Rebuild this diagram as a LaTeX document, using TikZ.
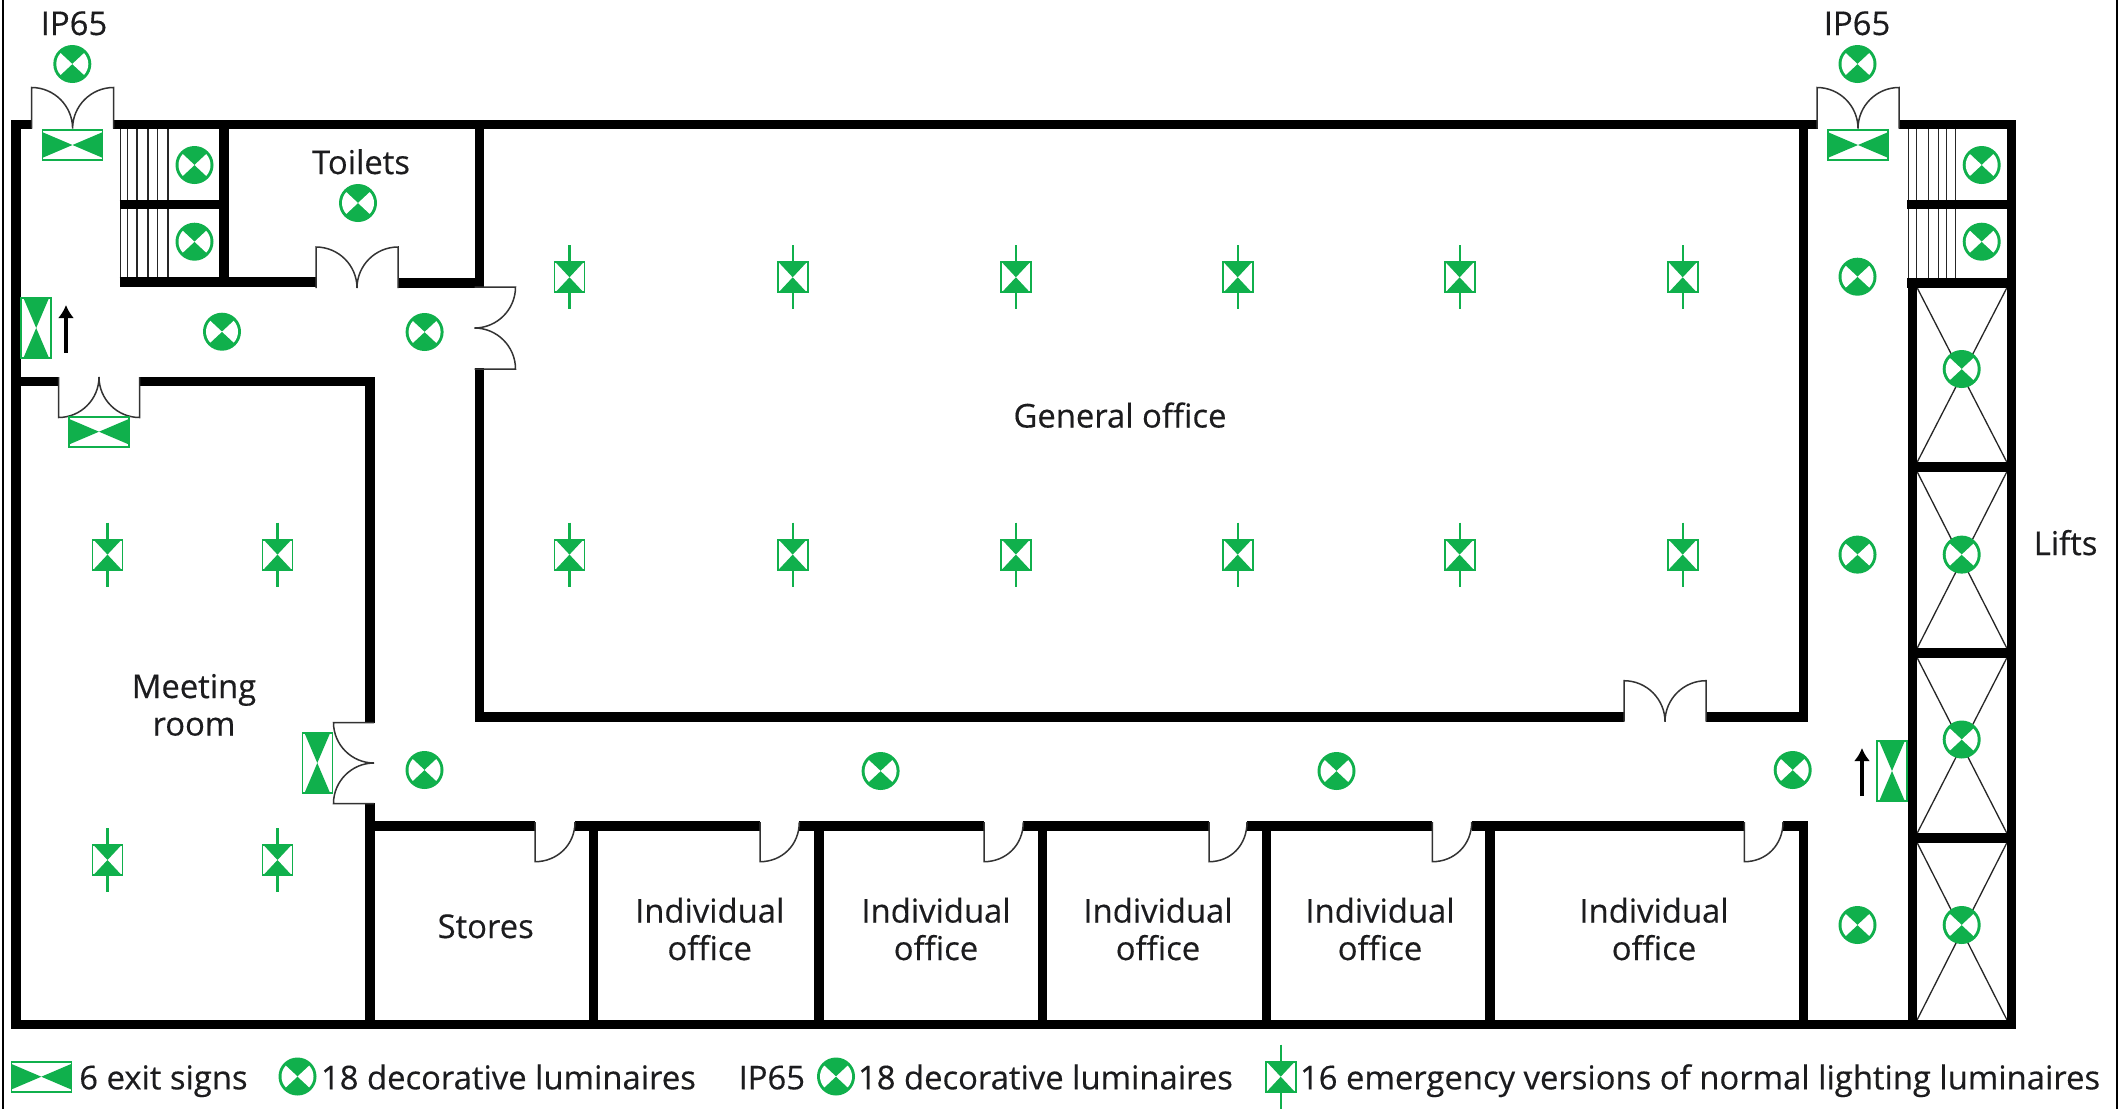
\documentclass[tikz,border=0pt]{standalone}
\usepackage{fontspec}
\setmainfont[FakeBold=0.35]{Open Sans}
\usetikzlibrary{arrows.meta}
\definecolor{lumgreen}{RGB}{16,176,76}
\definecolor{inkc}{RGB}{28,28,30}
\tikzset{
  wall/.style={draw=black,line width=4.7pt,line cap=butt,line join=miter},
  doorline/.style={draw=black!80,line width=0.75pt,line join=miter},
  thinline/.style={draw=black!85,line width=0.65pt},
  label/.style={inner sep=0pt,outer sep=0pt,anchor=base,text=inkc,font=\fontsize{16.4pt}{18pt}\selectfont},
  legendlabel/.style={label,anchor=base west},
  exitarrow/.style={draw=black,line width=1.6pt,-{Latex[length=6.5pt,width=8pt]}},
}
\newcommand\lumin[2]{%
  \begin{scope}[shift={(#1,#2)}]
    \fill[lumgreen] (0,0) circle[radius=19];
    \fill[white] (0,0) -- (43:16) arc[start angle=43,end angle=-43,radius=16] -- cycle;
    \fill[white] (0,0) -- (137:16) arc[start angle=137,end angle=223,radius=16] -- cycle;
  \end{scope}}
\newcommand\exitsign[3]{%
  \begin{scope}[shift={(#1,#2)},rotate=#3]
    \draw[lumgreen,line width=0.8pt,fill=white] (-30,-15) rectangle (30,15);
    \fill[lumgreen] (-30,-12.8) -- (0,0) -- (-30,12.8) -- cycle;
    \fill[lumgreen] (30,-12.8) -- (0,0) -- (30,12.8) -- cycle;
  \end{scope}}
\newcommand\emerg[2]{%
  \begin{scope}[shift={(#1,#2)}]
    \draw[lumgreen,line width=1.1pt] (0,-32) -- (0,32);
    \draw[lumgreen,line width=0.9pt,fill=white] (-15,-15) rectangle (15,15);
    \fill[lumgreen] (-14,-15) -- (0,0) -- (14,-15) -- cycle;
    \fill[lumgreen] (-14,15) -- (0,0) -- (14,15) -- cycle;
  \end{scope}}
\newcommand\dbldoor[4]{%
  \begin{scope}[shift={(#1,#2)},rotate=#3]
    \draw[doorline] (-#4,0) -- (-#4,-#4) .. controls (-0.45*#4,-#4) and (0,-0.55*#4) .. (0,0)
      .. controls (0,-0.55*#4) and (0.45*#4,-#4) .. (#4,-#4) -- (#4,0);
  \end{scope}}
\newcommand\sdoor[2]{%
  \draw[doorline] (#1,822) -- (#1,861.7) .. controls (#1+22,861.7) and (#2,845) .. (#2,822);}
\begin{document}
\begin{tikzpicture}[x=0.5pt,y=-0.5pt]
\useasboundingbox (0,0) rectangle (2121,1109);
\fill[white] (0,0) rectangle (2121,1109);
% frame
\draw[black,line width=1.4pt] (3,0) -- (3,1109);
\draw[black,line width=1.4pt] (2117,0) -- (2117,1109);
% stairs
\foreach \sx in {120.5,127.4,137,148,157.7,168}{
  \draw[thinline] (\sx,129) -- (\sx,200);
  \draw[thinline] (\sx,209) -- (\sx,278);}
\foreach \sx in {1908.5,1916.7,1928.3,1938.3,1946.7,1955.7}{
  \draw[thinline] (\sx,129) -- (\sx,200);
  \draw[thinline] (\sx,209) -- (\sx,279);}
% lift crosses
\foreach \ya/\yb in {287.5/462.5,471.5/648.5,657.5/833.5,842.5/1020}{
  \draw[thinline] (1917,\ya) -- (2007,\yb);
  \draw[thinline] (2007,\ya) -- (1917,\yb);}
% walls
\draw[wall] (32,124.6) -- (16,124.6) -- (16,1024.7) -- (2011.5,1024.7) -- (2011.5,124.6) -- (1899,124.6);
\draw[wall] (113,124.6) -- (1817.5,124.6);
\draw[wall] (119.5,204.7) -- (224,204.7);
\draw[wall] (224,124.6) -- (224,282);
\draw[wall] (119.5,282) -- (316,282);
\draw[wall] (398,283) -- (484,283);
\draw[wall] (479.5,124.6) -- (479.5,287);
\draw[wall] (479.5,368) -- (479.5,717) -- (1624,717);
\draw[wall] (1706,717) -- (1803.5,717) -- (1803.5,124.6);
\draw[wall] (16,381.5) -- (58.5,381.5);
\draw[wall] (139.5,381.5) -- (370,381.5) -- (370,722.7);
\draw[wall] (370,803) -- (370,1024.7);
\draw[wall] (370,826) -- (535,826);
\draw[wall] (575,826) -- (760,826);
\draw[wall] (799.3,826) -- (984,826);
\draw[wall] (1023.3,826) -- (1209,826);
\draw[wall] (1247,826) -- (1432.3,826);
\draw[wall] (1471.7,826) -- (1744.3,826);
\draw[wall] (1783,826) -- (1803.5,826) -- (1803.5,1024.7);
\foreach \wx in {593.3,819,1042.7,1266.7,1490}{\draw[wall] (\wx,826) -- (\wx,1024.7);}
\draw[wall] (1907.3,204.7) -- (2011.5,204.7);
\draw[wall] (1907.3,283) -- (2011.5,283);
\draw[wall] (1912.5,283) -- (1912.5,1024.7);
\foreach \wy in {467,653,838}{\draw[wall] (1912.5,\wy) -- (2011.5,\wy);}
% doors
\dbldoor{72.6}{128.5}{0}{41}
\dbldoor{1858}{128.5}{0}{41}
\dbldoor{357}{288}{0}{41}
\dbldoor{474.5}{328}{-90}{41}
\dbldoor{99}{377}{180}{40.5}
\dbldoor{374}{763}{90}{40.5}
\dbldoor{1665}{721.7}{0}{41}
\sdoor{535}{575}
\sdoor{760}{799.3}
\sdoor{984}{1023.3}
\sdoor{1209}{1247}
\sdoor{1432.3}{1471.7}
\sdoor{1744.3}{1783}
% exit signs and arrows
\exitsign{72.5}{145}{0}
\exitsign{1858}{145}{0}
\exitsign{36.2}{328}{90}
\exitsign{99}{431.7}{0}
\exitsign{317.3}{763}{90}
\exitsign{1892}{771}{90}
\coordinate (arrowAfrom) at (66,352.7);
\coordinate (arrowAto) at (66,305);
\coordinate (arrowBfrom) at (1862,796);
\coordinate (arrowBto) at (1862,748);
\draw[exitarrow] (arrowAfrom) -- (arrowAto);
\draw[exitarrow] (arrowBfrom) -- (arrowBto);
% decorative luminaires
\foreach \lx/\ly in {72.3/64,1857.5/64,194.5/165,194.5/241.7,358/203,222/331.7,424.6/332,
  424.5/770,880.6/771,1336.5/771,1792.7/770,1857.5/276.7,1857.5/554.6,1857.5/925,
  1981.7/165,1981.7/241.7,1961.7/369,1961.7/554.6,1961.7/739.5,1961.7/925}{\lumin{\lx}{\ly}}
% emergency luminaires
\foreach \ex in {569.5,792.7,1015.9,1237.7,1459.6,1682.7}{\emerg{\ex}{277.3}\emerg{\ex}{554.6}}
\foreach \ex in {107.5,277.5}{\emerg{\ex}{554.6}\emerg{\ex}{860}}
% labels
\node[label] (ipa) at (74,35) {IP65};
\node[label] (ipb) at (1857,35) {IP65};
\node[label] (toilets) at (361,174) {Toilets};
\node[label] (general) at (1120,427.5) {General office};
\node[label] (meeting) at (194,698) {Meeting};
\node[label] (room) at (194,735.5) {room};
\node[label] (stores) at (485.7,938) {Stores};
\node[label] (lifts) at (2065.6,555) {Lifts};
\foreach \ox/\nm in {709.7/a,936/b,1158/c,1380/d,1654/e}{
  \node[label] (ind\nm) at (\ox,922.5) {Individual};
  \node[label] (off\nm) at (\ox,960) {office};}
% legend
\exitsign{41.3}{1076.7}{0}
\node[legendlabel] (legexit) at (79.3,1089.3) {6 exit signs};
\lumin{297.5}{1076.5}
\node[legendlabel] (legdeca) at (321,1089.3) {18 decorative luminaires};
\node[legendlabel] (legip) at (738.6,1089.3) {IP65};
\lumin{836}{1076.5}
\node[legendlabel] (legdecb) at (858,1089.3) {18 decorative luminaires};
\emerg{1280.7}{1076.7}
\node[legendlabel] (legem) at (1300,1089.3) {16 emergency versions of normal lighting luminaires};
\end{tikzpicture}
\end{document}
